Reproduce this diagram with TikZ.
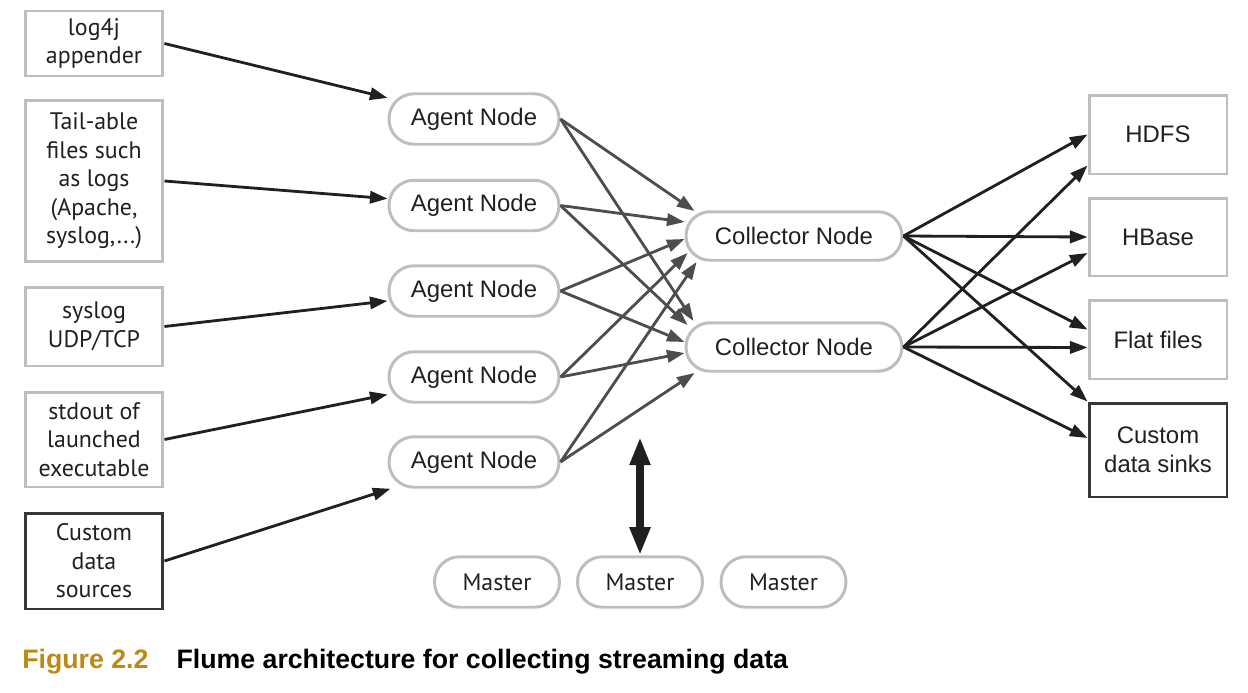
\documentclass[tikz,border=0pt]{standalone}
\usepackage{fontspec}
\setmainfont{Liberation Sans}
\newfontfamily\humfont{PT Sans}
\usetikzlibrary{arrows.meta,calc}
\definecolor{ink}{RGB}{35,31,32}
\definecolor{edge}{RGB}{188,190,192}
\definecolor{wire}{RGB}{77,77,79}
\definecolor{gold}{RGB}{189,137,20}

\begin{document}
\begin{tikzpicture}[x=0.02cm,y=-0.02cm,
    every node/.style={text=ink,font=\fontsize{13.6}{16.5}\selectfont},
    src/.style={draw=edge,line width=1.7pt,minimum width=2.76cm,align=center,inner sep=0pt,
        font=\humfont\fontsize{13.6}{16.2}\selectfont},
    srcdark/.style={src,draw=ink!90},
    agent/.style={draw=edge,line width=1.7pt,rounded corners=0.5cm,minimum width=3.4cm,minimum height=1.01cm},
    collector/.style={agent,rounded corners=0.48cm,minimum width=4.32cm,minimum height=0.97cm},
    master/.style={agent,minimum width=2.5cm,minimum height=1.01cm,font=\humfont\fontsize{13.6}{16}\selectfont},
    sink/.style={draw=edge,line width=1.7pt,minimum width=2.76cm,align=center,inner sep=0pt},
    sinkdark/.style={sink,draw=ink!90},
    feed/.style={-{Triangle[length=10pt,width=7pt]},line width=1.6pt,draw=ink},
    relay/.style={feed,draw=wire},
    control/.style={{Triangle[length=16pt,width=11pt]}-{Triangle[length=16pt,width=11pt]},line width=4.5pt,draw=ink}]

    \useasboundingbox (0,0) rectangle (1248,693);

    \node[src,minimum height=1.3cm] (log4j) at (94,43.5) {log4j\\appender};
    \node[src,minimum height=3.24cm] (tail) at (94,181) {Tail-able\\files such\\as logs\\(Apache,\\syslog,...)};
    \node[src,minimum height=1.58cm] (syslog) at (94,326.5) {syslog\\UDP/TCP};
    \node[src,minimum height=1.9cm] (stdout) at (94,439.5) {stdout of\\launched\\executable};
    \node[srcdark,minimum height=1.92cm] (custsrc) at (94,561) {Custom\\data\\sources};

    \node[agent] (a1) at (474,119) {Agent Node};
    \node[agent] (a2) at (474,205.5) {Agent Node};
    \node[agent] (a3) at (474,291) {Agent Node};
    \node[agent] (a4) at (474,377) {Agent Node};
    \node[agent] (a5) at (474,462) {Agent Node};

    \node[collector] (c1) at (794,236) {Collector Node};
    \node[collector] (c2) at (794,347) {Collector Node};

    \node[sink,minimum height=1.58cm] (hdfs) at (1158,134.5) {HDFS};
    \node[sink,minimum height=1.56cm] (hbase) at (1158,237) {HBase};
    \node[sink,minimum height=1.58cm] (flat) at (1158,339.5) {Flat files};
    \node[sinkdark,minimum height=1.88cm] (sinks) at (1158,450) {Custom\\data sinks};

    \node[master] (m1) at (497,582) {Master};
    \node[master] (m2) at (640,582) {Master};
    \node[master] (m3) at (783.5,582) {Master};

    \draw[feed] (log4j.east) -- (a1);
    \draw[feed] (tail.east) -- (a2);
    \draw[feed] (syslog.east) -- (a3);
    \draw[feed] (stdout.east) -- (a4);
    \draw[feed] (custsrc.east) -- (a5);

    \draw[relay] (a1.east) -- ($(c1.west)+(10,-25)$);
    \draw[relay] (a1.east) -- ($(c2.west)+(9,-26)$);
    \draw[relay] (a2.east) -- ($(c1.west)+(0,-14)$);
    \draw[relay] (a2.east) -- ($(c2.west)+(3,-22)$);
    \draw[relay] (a3.east) -- ($(c1.west)+(0,3)$);
    \draw[relay] (a3.east) -- ($(c2.west)+(0,-5)$);
    \draw[relay] (a4.east) -- ($(c1.west)+(3,17)$);
    \draw[relay] (a4.east) -- ($(c2.west)+(0,6)$);
    \draw[relay] (a5.east) -- ($(c1.west)+(12,26)$);
    \draw[relay] (a5.east) -- ($(c2.west)+(10,26)$);

    \draw[feed] (c1.east) -- (hdfs.west);
    \draw[feed] (c1.east) -- (hbase.west);
    \draw[feed] (c1.east) -- ($(flat.west)+(0,-10)$);
    \draw[feed] (c1.east) -- (sinks.north west);
    \draw[feed] (c2.east) -- ($(hdfs.west)+(0,31)$);
    \draw[feed] (c2.east) -- ($(hbase.west)+(0,16)$);
    \draw[feed] (c2.east) -- ($(flat.west)+(0,8)$);
    \draw[feed] (c2.east) -- ($(sinks.west)+(0,-12)$);

    \coordinate (ctl) at (640,437);
    \draw[control] (ctl) -- (m2.north);

    \node[anchor=base west,inner sep=0pt,text=black,font=\bfseries\fontsize{15.2}{17}\selectfont] (caption) at (22,668)
        {\textcolor{gold}{Figure 2.2}\hspace{16pt}Flume architecture for collecting streaming data};
\end{tikzpicture}
\end{document}
